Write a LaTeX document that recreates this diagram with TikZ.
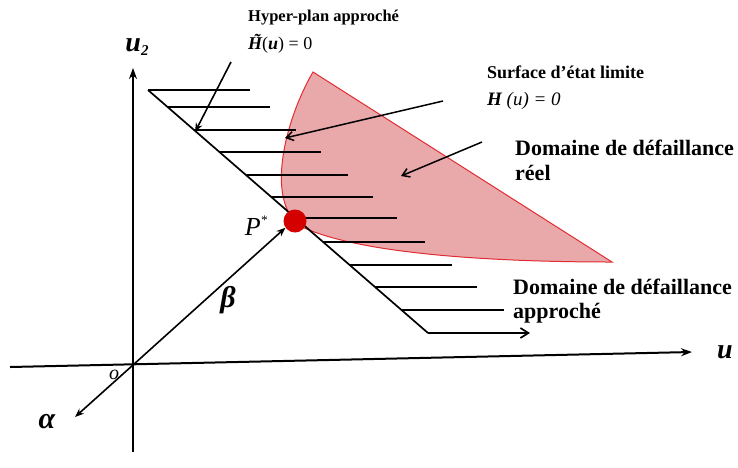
\documentclass[tikz,border=0pt]{standalone}
\usepackage{fontspec}
\setmainfont{Liberation Serif}
\usetikzlibrary{arrows.meta}
\definecolor{pinkfill}{RGB}{233,168,170}
\definecolor{redline}{RGB}{225,45,50}
\definecolor{dotred}{RGB}{212,0,0}
\newcommand{\tildeH}{{\ooalign{H\cr\hidewidth\raisebox{0.16em}{\kern0.15em\char"02DC}\hidewidth\cr}}}
\begin{document}
\begin{tikzpicture}[x=1pt,y=-1pt,
  lbl/.style={anchor=west,inner sep=0pt,font=\bfseries\fontsize{#1}{#1}\selectfont},
  sym/.style={inner sep=0pt,font=\fontsize{#1}{#1}\selectfont},
  axis/.style={line width=2pt,-{Stealth[length=11pt,width=8pt]}},
  hatch/.style={line width=1.7pt},
  ptr/.style={line width=1.5pt,-{Straight Barb[length=7pt,width=9pt]}},
  fptr/.style={line width=1.6pt,-{Stealth[length=9pt,width=7pt]}}]
\useasboundingbox (0,0) rectangle (738,467);
% coordinates
\coordinate (O) at (133,365);
\coordinate (Ytop) at (133,68);
\coordinate (Ybot) at (133,452);
\coordinate (Xl) at (10,367);
\coordinate (Xr) at (692,352);
\coordinate (Dtop) at (148,90);
\coordinate (Dbot) at (428,333);
\coordinate (Aend) at (75,417);
% failure domain
\draw[redline,fill=pinkfill,line width=1pt]
  (313,72) .. controls (285,120) and (265,200) .. (300,226)
  .. controls (360,255) and (500,262) .. (612,262) -- cycle;
% hatch lines
\foreach \y in {90,107,130,152,175,197,218,242,265,287,310}
  \draw[hatch] ({148+(\y-90)*1.15226},\y) -- ++(102,0);
\coordinate (Hend) at (530,333);
\draw[hatch] (Dtop) -- (Dbot);
\draw[hatch,-{Straight Barb[length=8pt,width=10pt]}] (Dbot) -- (Hend);
% axes
\draw[axis] (Ybot) -- (Ytop);
\draw[axis] (Xl) -- (Xr);
\node[sym=28,font=\bfseries\itshape\fontsize{28}{28}\selectfont] (u2) at (137,47) {u\raisebox{-0.15em}{\fontsize{15}{15}\selectfont 2}};
\node[sym=28,font=\bfseries\itshape\fontsize{28}{28}\selectfont] (ux) at (725,352) {u};
\node[sym=20,font=\itshape\fontsize{20}{20}\selectfont] (o) at (114,375) {o};
% alpha
\draw[fptr] (O) -- (Aend);
\node[sym=30,font=\bfseries\itshape\fontsize{30}{30}\selectfont] (alpha) at (47,422) {α};
% design point
\node[circle,fill=dotred,minimum size=23pt,inner sep=0pt] (P) at (295,221) {};
\draw[fptr] (O) -- (P.-145);
\node[sym=26,font=\itshape\fontsize{26}{26}\selectfont] (Pl) at (256,226) {P\raisebox{0.42em}{\fontsize{13}{13}\selectfont *}};
\node[sym=30,font=\bfseries\itshape\fontsize{30}{30}\selectfont] (beta) at (228,300) {β};
% labels
\node[lbl=16.5] (hyp) at (248,18) {Hyper-plan approché};
\node[lbl=17,font=\fontsize{18}{18}\selectfont] (hyp2) at (248,45) {{\bfseries\itshape\tildeH}({\bfseries\itshape u}) = 0};
\node[lbl=18] (surf) at (487,72) {Surface d’état limite};
\node[lbl=18,font=\bfseries\itshape\fontsize{19}{19}\selectfont] (surf2) at (487,101) {H {\mdseries(u) = 0}};
\node[lbl=22] (reel) at (515,148) {Domaine de défaillance};
\node[lbl=22] (reel2) at (515,173) {réel};
\node[lbl=22] (appr) at (513,287) {Domaine de défaillance};
\node[lbl=22] (appr2) at (513,313) {approché};
% pointers
\coordinate (h0) at (231,62);
\coordinate (h1) at (195,132);
\draw[fptr] (h0) -- (h1);
\coordinate (s0) at (443,101);
\coordinate (s1) at (285,138);
\draw[ptr] (s0) -- (s1);
\coordinate (r0) at (482,142);
\coordinate (r1) at (401,176);
\draw[ptr] (r0) -- (r1);
\end{tikzpicture}
\end{document}
